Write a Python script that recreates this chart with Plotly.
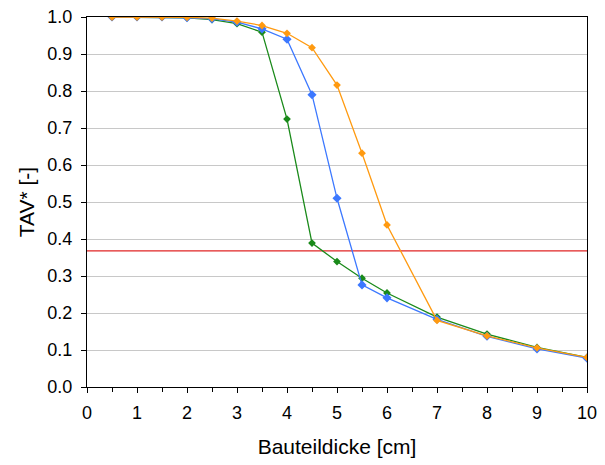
import plotly.graph_objects as go

thickness = [0.5, 1, 1.5, 2, 2.5, 3, 3.5, 4, 4.5, 5, 5.5, 6, 7, 8, 9, 10]
tav_green = [1.0, 1.0, 1.0, 0.998, 0.993, 0.982, 0.959, 0.724, 0.389, 0.339, 0.294, 0.254, 0.189, 0.143, 0.107, 0.080]
tav_blue = [1.0, 1.0, 1.0, 0.998, 0.995, 0.986, 0.968, 0.940, 0.790, 0.510, 0.276, 0.241, 0.183, 0.137, 0.103, 0.078]
tav_orange = [1.0, 1.0, 1.0, 0.999, 0.997, 0.989, 0.977, 0.956, 0.917, 0.816, 0.632, 0.438, 0.180, 0.138, 0.106, 0.080]
limit_x = [0, 10]
limit_y = [0.368, 0.368]

font = "Liberation Sans, Arial, sans-serif"

fig = go.Figure()
fig.add_trace(go.Scatter(x=limit_x, y=limit_y, mode="lines",
                         line=dict(color="#e02424", width=1.3), showlegend=False))
fig.add_trace(go.Scatter(x=thickness, y=tav_green, mode="lines+markers",
                         line=dict(color="#1a8a1a", width=1.3),
                         marker=dict(symbol="diamond", size=6, color="#1a8a1a"), showlegend=False))
fig.add_trace(go.Scatter(x=thickness, y=tav_blue, mode="lines+markers",
                         line=dict(color="#3c78ff", width=1.3),
                         marker=dict(symbol="diamond", size=7, color="#3c78ff"), showlegend=False))
fig.add_trace(go.Scatter(x=thickness, y=tav_orange, mode="lines+markers",
                         line=dict(color="#ff9a10", width=1.3),
                         marker=dict(symbol="diamond", size=6, color="#ff9a10"), showlegend=False))

fig.update_layout(
    width=605, height=465,
    margin=dict(l=87, r=18, t=17, b=78),
    paper_bgcolor="white", plot_bgcolor="white",
    font=dict(family=font, size=18, color="black"),
    xaxis=dict(range=[0, 10], tickmode="linear", tick0=0, dtick=1,
               ticks="outside", ticklen=5, tickcolor="black", automargin=False,
               ticklabelstandoff=4,
               showline=True, linecolor="black", linewidth=1.3, mirror=True,
               showgrid=False, zeroline=False,
               minor=dict(ticks="outside", dtick=0.5, ticklen=4, tickcolor="black", showgrid=False),
               title=dict(text="Bauteildicke [cm]", font=dict(size=21), standoff=17),
               tickfont=dict(size=18)),
    yaxis=dict(range=[0, 1.0], tickmode="linear", tick0=0, dtick=0.1, tickformat=".1f",
               ticks="outside", ticklen=5, tickcolor="black", automargin=False,
               ticklabelstandoff=5,
               showline=True, linecolor="black", linewidth=1.3, mirror=True,
               showgrid=True, gridcolor="#c8c8c8", gridwidth=1, zeroline=False,
               title=dict(text="TAV* [-]", font=dict(size=21), standoff=6),
               tickfont=dict(size=18)),
)

fig.write_html("out.html", config={"displayModeBar": False},
               post_script="document.body.style.margin='0';document.body.style.overflow='hidden';")
